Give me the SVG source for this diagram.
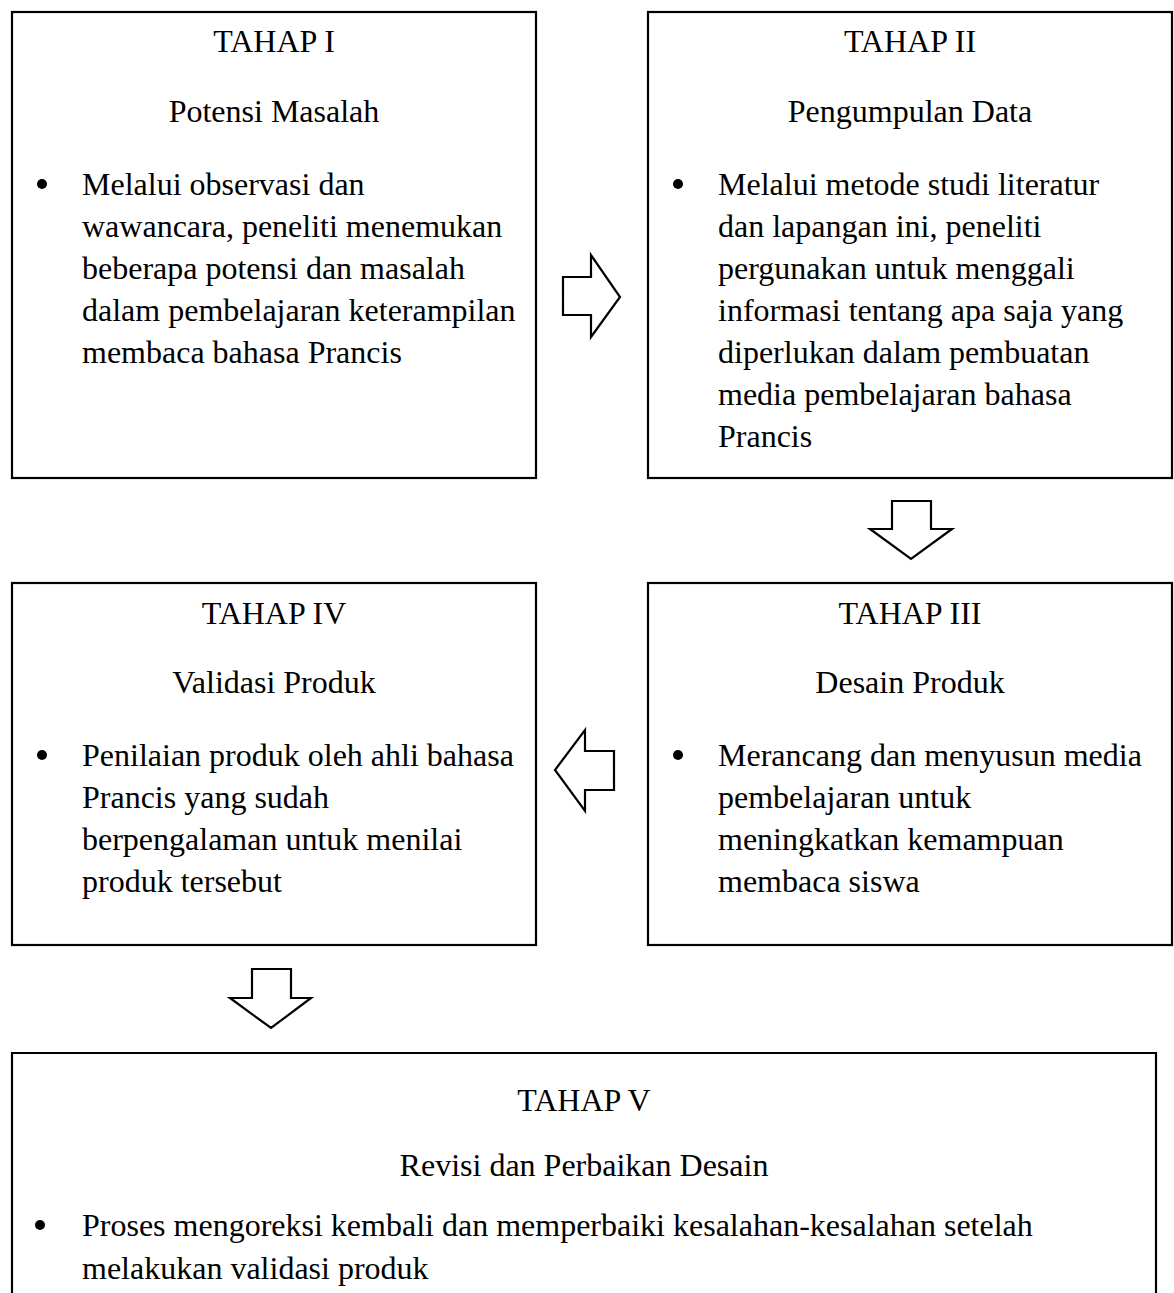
<svg xmlns="http://www.w3.org/2000/svg" width="1174" height="1293" viewBox="0 0 1174 1293">
<style>
.box{fill:none;stroke:#000;stroke-width:2.2}
.arr{fill:#fff;stroke:#000;stroke-width:2.2;stroke-linejoin:miter}
text{font-family:"Liberation Serif","Times New Roman",serif;font-size:32px;fill:#000}
.c{text-anchor:middle}
.dot{fill:#000}
</style>
<rect width="1174" height="1293" fill="#fff"/>
<g id="node1">
<rect class="box" x="12" y="12" width="524" height="466"/>
<text class="c" x="274" y="52">TAHAP I</text>
<text class="c" x="274" y="122">Potensi Masalah</text>
<circle class="dot" cx="42" cy="184" r="5"/>
<text x="82" y="195">Melalui observasi dan</text>
<text x="82" y="237">wawancara, peneliti menemukan</text>
<text x="82" y="279">beberapa potensi dan masalah</text>
<text x="82" y="321">dalam pembelajaran keterampilan</text>
<text x="82" y="363">membaca bahasa Prancis</text>
</g>
<g id="node2">
<rect class="box" x="648" y="12" width="524" height="466"/>
<text class="c" x="910" y="52">TAHAP II</text>
<text class="c" x="910" y="122">Pengumpulan Data</text>
<circle class="dot" cx="678" cy="184" r="5"/>
<text x="718" y="195">Melalui metode studi literatur</text>
<text x="718" y="237">dan lapangan ini, peneliti</text>
<text x="718" y="279">pergunakan untuk menggali</text>
<text x="718" y="321">informasi tentang apa saja yang</text>
<text x="718" y="363">diperlukan dalam pembuatan</text>
<text x="718" y="405">media pembelajaran bahasa</text>
<text x="718" y="447">Prancis</text>
</g>
<g id="node3">
<rect class="box" x="648" y="583" width="524" height="362"/>
<text class="c" x="910" y="624">TAHAP III</text>
<text class="c" x="910" y="693">Desain Produk</text>
<circle class="dot" cx="678" cy="755" r="5"/>
<text x="718" y="766">Merancang dan menyusun media</text>
<text x="718" y="808">pembelajaran untuk</text>
<text x="718" y="850">meningkatkan kemampuan</text>
<text x="718" y="892">membaca siswa</text>
</g>
<g id="node4">
<rect class="box" x="12" y="583" width="524" height="362"/>
<text class="c" x="274" y="624">TAHAP IV</text>
<text class="c" x="274" y="693">Validasi Produk</text>
<circle class="dot" cx="42" cy="755" r="5"/>
<text x="82" y="766">Penilaian produk oleh ahli bahasa</text>
<text x="82" y="808">Prancis yang sudah</text>
<text x="82" y="850">berpengalaman untuk menilai</text>
<text x="82" y="892">produk tersebut</text>
</g>
<g id="node5">
<path class="box" d="M12,1300 V1053 H1156 V1300"/>
<text class="c" x="584" y="1111">TAHAP V</text>
<text class="c" x="584" y="1176">Revisi dan Perbaikan Desain</text>
<circle class="dot" cx="40" cy="1225" r="5"/>
<text x="82" y="1236">Proses mengoreksi kembali dan memperbaiki kesalahan-kesalahan setelah</text>
<text x="82" y="1279">melakukan validasi produk</text>
</g>
<g id="connectors">
<polygon class="arr" points="563,277 591,277 591,255 620,297 591,337 591,315 563,315"/>
<polygon class="arr" points="892,501 931,501 931,529 952,529 911,559 870,529 892,529"/>
<polygon class="arr" points="614,751 585,751 585,730 555,770 585,811 585,790 614,790"/>
<polygon class="arr" points="252,969 291,969 291,998 311,998 271,1028 230,998 252,998"/>
</g>
</svg>
